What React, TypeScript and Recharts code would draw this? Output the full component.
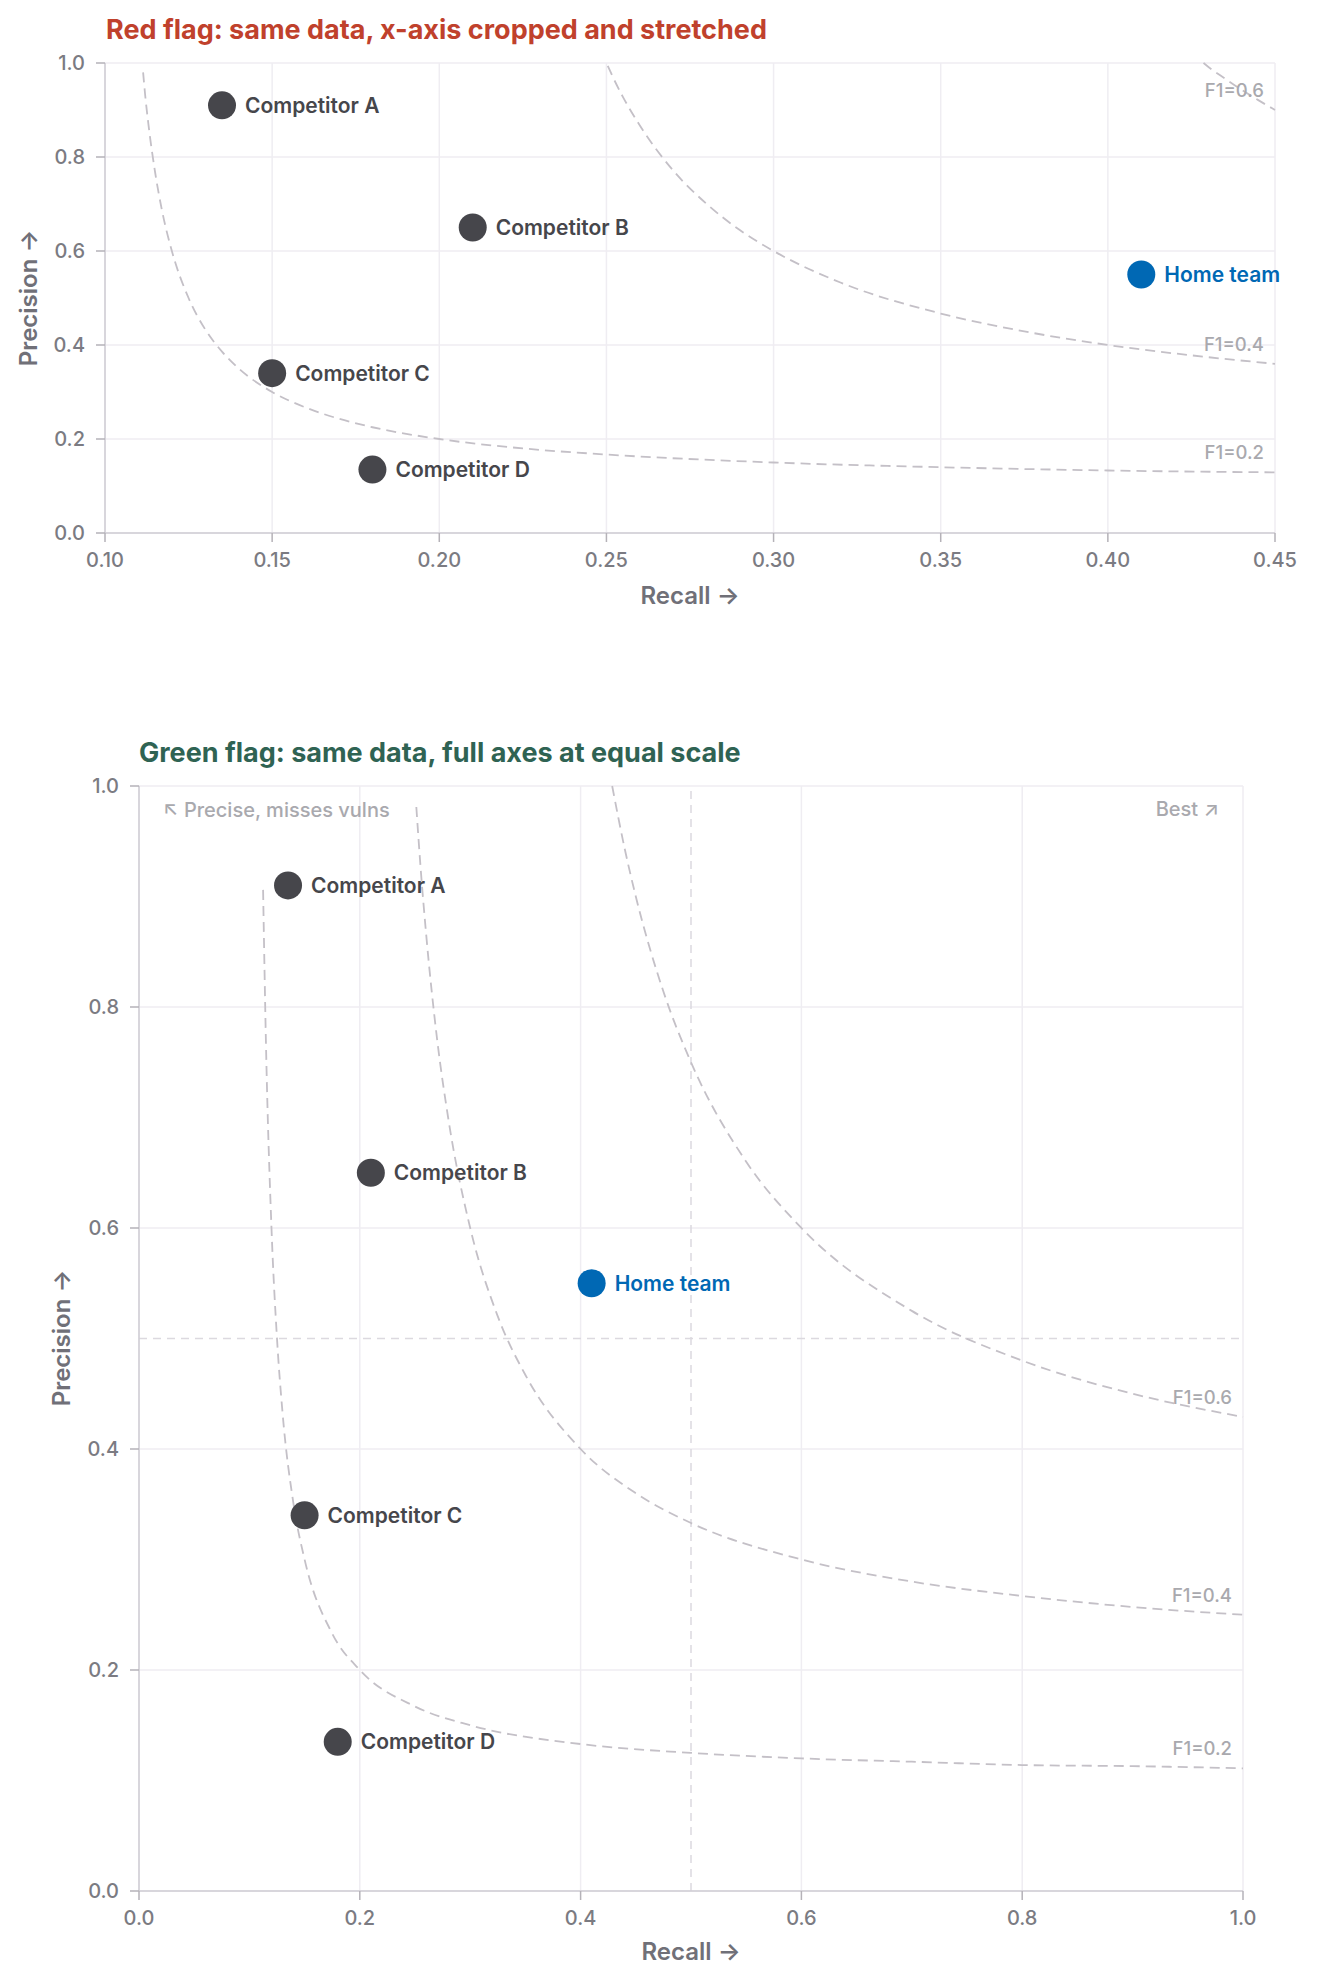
import React from 'react';
import {
  ComposedChart,
  Line,
  Scatter,
  XAxis,
  YAxis,
  CartesianGrid,
  ReferenceLine,
  LabelList,
} from 'recharts';

// same four competitors + home team on both panels
const TEAM_NAMES = ['Competitor A', 'Competitor B', 'Competitor C', 'Competitor D'];
const TEAM_RECALL = [0.135, 0.21, 0.15, 0.18];
const TEAM_PRECISION = [0.91, 0.65, 0.34, 0.135];

const HOME_NAME = 'Home team';
const HOME_RECALL = 0.41;
const HOME_PRECISION = 0.55;

const CROP_X_TICKS = [0.1, 0.15, 0.2, 0.25, 0.3, 0.35, 0.4, 0.45];
const FULL_X_TICKS = [0, 0.2, 0.4, 0.6, 0.8, 1.0];
const Y_TICKS = [0, 0.2, 0.4, 0.6, 0.8, 1.0];

// iso-F1 guide curves, [recall, precision]
const CROP_F1_20: [number, number][] = [
  [0.1114, 0.98], [0.112, 0.933], [0.113, 0.869], [0.115, 0.767], [0.117, 0.688],
  [0.12, 0.6], [0.125, 0.5], [0.13, 0.433], [0.135, 0.386], [0.14, 0.35],
  [0.15, 0.3], [0.16, 0.267], [0.17, 0.243], [0.18, 0.225], [0.2, 0.2],
  [0.225, 0.18], [0.25, 0.167], [0.3, 0.15], [0.35, 0.14], [0.4, 0.133], [0.45, 0.129],
];
const CROP_F1_40: [number, number][] = [
  [0.2504, 0.994], [0.252, 0.969], [0.255, 0.927], [0.26, 0.867], [0.27, 0.771],
  [0.28, 0.7], [0.29, 0.644], [0.3, 0.6], [0.32, 0.533], [0.35, 0.467],
  [0.375, 0.429], [0.4, 0.4], [0.425, 0.378], [0.45, 0.36],
];
const CROP_F1_60: [number, number][] = [
  [0.4286, 1.0], [0.43, 0.992], [0.435, 0.967], [0.44, 0.943], [0.445, 0.921], [0.45, 0.9],
];

// ...and off the full-scale panel
const FULL_F1_20: [number, number][] = [
  [0.1124, 0.906], [0.115, 0.767], [0.12, 0.6], [0.125, 0.5], [0.13, 0.433],
  [0.14, 0.35], [0.15, 0.3], [0.175, 0.233], [0.2, 0.2], [0.25, 0.167],
  [0.3, 0.15], [0.4, 0.133], [0.5, 0.125], [0.6, 0.12], [0.7, 0.117],
  [0.8, 0.114], [0.9, 0.113], [1.0, 0.111],
];
const FULL_F1_40: [number, number][] = [
  [0.2512, 0.981], [0.255, 0.927], [0.26, 0.867], [0.27, 0.771], [0.28, 0.7],
  [0.3, 0.6], [0.325, 0.52], [0.35, 0.467], [0.4, 0.4], [0.45, 0.36],
  [0.5, 0.333], [0.6, 0.3], [0.7, 0.28], [0.8, 0.267], [0.9, 0.257], [1.0, 0.25],
];
const FULL_F1_60: [number, number][] = [
  [0.4286, 1.0], [0.44, 0.943], [0.45, 0.9], [0.475, 0.814], [0.5, 0.75],
  [0.55, 0.66], [0.6, 0.6], [0.7, 0.525], [0.8, 0.48], [0.9, 0.45], [1.0, 0.429],
];

const FONT = 'Inter, "Noto Sans", sans-serif';
const TICK_STYLE = { fill: '#7b7b82', fontSize: 20, fontWeight: 500, fontFamily: FONT };
const AXIS_COLOR = '#cfccd3';
const CURVE_COLOR = '#c4c0c7';

const teamRows = TEAM_NAMES.map((name, i) => ({ name, r: TEAM_RECALL[i], p: TEAM_PRECISION[i] }));
const homeRows = [{ name: HOME_NAME, r: HOME_RECALL, p: HOME_PRECISION }];
const toRows = (pairs: [number, number][]) => pairs.map(([r, p]) => ({ r, p }));

const dotShape = (color: string) => (props: any) => {
  const { cx, cy, payload } = props;
  return (
    <g>
      <circle cx={cx} cy={cy} r={14} fill={color} />
      <text
        x={cx + 23}
        y={cy}
        dominantBaseline="central"
        fill={color}
        fontSize={21}
        fontWeight={600}
        fontFamily={FONT}
      >
        {payload.name}
      </text>
    </g>
  );
};

const endLabel = (text: string, count: number) => (props: any) => {
  if (props.index !== count - 1) return null;
  return (
    <text
      x={props.x - 11}
      y={props.y - 20}
      textAnchor="end"
      dominantBaseline="central"
      fill="#a9a9ae"
      fontSize={18.5}
      fontWeight={500}
      fontFamily={FONT}
    >
      {text}
    </text>
  );
};

interface PanelProps {
  height: number;
  margin: { top: number; right: number; bottom: number; left: number };
  xAxisHeight: number;
  xDomain: [number, number];
  xTicks: number[];
  xDigits: number;
  curves: { label: string; pts: [number, number][] }[];
  guides?: boolean;
}

function Panel({ height, margin, xAxisHeight, xDomain, xTicks, xDigits, curves, guides }: PanelProps) {
  return (
    <ComposedChart width={1317} height={height} margin={margin} style={{ overflow: 'visible' }}>
      <CartesianGrid stroke="#efedf2" strokeWidth={1.5} />
      <XAxis
        type="number"
        dataKey="r"
        domain={xDomain}
        ticks={xTicks}
        tickFormatter={(v: number) => v.toFixed(xDigits)}
        height={xAxisHeight}
        tick={TICK_STYLE}
        tickSize={9}
        tickMargin={11}
        axisLine={{ stroke: AXIS_COLOR, strokeWidth: 1.5 }}
        tickLine={{ stroke: '#b5b2b8', strokeWidth: 1.5 }}
      />
      <YAxis
        type="number"
        dataKey="p"
        domain={[0, 1]}
        ticks={Y_TICKS}
        tickFormatter={(v: number) => v.toFixed(1)}
        width={60}
        tick={TICK_STYLE}
        tickSize={9}
        tickMargin={11}
        axisLine={{ stroke: AXIS_COLOR, strokeWidth: 1.5 }}
        tickLine={{ stroke: '#b5b2b8', strokeWidth: 1.5 }}
      />
      {guides && <ReferenceLine x={0.5} stroke="#dcd9df" strokeWidth={1.5} strokeDasharray="8 6" />}
      {guides && <ReferenceLine y={0.5} stroke="#dcd9df" strokeWidth={1.5} strokeDasharray="8 6" />}
      {curves.map((c) => (
        <Line
          key={c.label}
          data={toRows(c.pts)}
          dataKey="p"
          type="monotone"
          stroke={CURVE_COLOR}
          strokeWidth={1.8}
          strokeDasharray="10 6"
          dot={false}
          activeDot={false}
          isAnimationActive={false}
        >
          <LabelList dataKey="p" content={endLabel(c.label, c.pts.length)} />
        </Line>
      ))}
      <Scatter data={teamRows} shape={dotShape('#46464b')} isAnimationActive={false} />
      <Scatter data={homeRows} shape={dotShape('#0068b4')} isAnimationActive={false} />
    </ComposedChart>
  );
}

const abs = (style: React.CSSProperties): React.CSSProperties => ({
  position: 'absolute',
  fontFamily: FONT,
  whiteSpace: 'nowrap',
  ...style,
});

const AXIS_TITLE = { fontSize: 24, fontWeight: 600, color: '#707078' };
const CORNER_NOTE = { fontSize: 20, fontWeight: 500, color: '#a9a9ae' };

export default function App() {
  return (
    <div
      style={{
        position: 'absolute',
        left: 0,
        top: 0,
        width: 1317,
        height: 1984,
        overflow: 'hidden',
        background: '#ffffff',
      }}
    >
      <div style={abs({ left: 106, top: 14, lineHeight: '32px', fontSize: 27, fontWeight: 700, color: '#c0412c' })}>
        Red flag: same data, x-axis cropped and stretched
      </div>
      <div style={abs({ left: 0, top: 0 })}>
        <Panel
          height={640}
          margin={{ top: 63, right: 42, bottom: 0, left: 45 }}
          xAxisHeight={107}
          xDomain={[0.1, 0.45]}
          xTicks={CROP_X_TICKS}
          xDigits={2}
          curves={[
            { label: 'F1=0.2', pts: CROP_F1_20 },
            { label: 'F1=0.4', pts: CROP_F1_40 },
            { label: 'F1=0.6', pts: CROP_F1_60 },
          ]}
        />
      </div>
      <div style={abs({ left: 690, top: 595, transform: 'translate(-50%, -50%)', ...AXIS_TITLE })}>
        Recall →
      </div>
      <div style={abs({ left: 28, top: 298, transform: 'translate(-50%, -50%) rotate(-90deg)', ...AXIS_TITLE })}>
        Precision →
      </div>

      <div style={abs({ left: 139, top: 737, lineHeight: '32px', fontSize: 27, fontWeight: 700, color: '#2f6353' })}>
        Green flag: same data, full axes at equal scale
      </div>
      <div style={abs({ left: 0, top: 700 })}>
        <Panel
          height={1271}
          margin={{ top: 86, right: 74, bottom: 0, left: 79 }}
          xAxisHeight={80}
          xDomain={[0, 1]}
          xTicks={FULL_X_TICKS}
          xDigits={1}
          guides
          curves={[
            { label: 'F1=0.2', pts: FULL_F1_20 },
            { label: 'F1=0.4', pts: FULL_F1_40 },
            { label: 'F1=0.6', pts: FULL_F1_60 },
          ]}
        />
      </div>
      <div style={abs({ left: 163, top: 810, transform: 'translateY(-50%)', ...CORNER_NOTE })}>
        ↖ Precise, misses vulns
      </div>
      <div style={abs({ right: 1317 - 1219, top: 809, transform: 'translateY(-50%)', ...CORNER_NOTE })}>
        Best ↗
      </div>
      <div style={abs({ left: 691, top: 1951, transform: 'translate(-50%, -50%)', ...AXIS_TITLE })}>
        Recall →
      </div>
      <div style={abs({ left: 61, top: 1338, transform: 'translate(-50%, -50%) rotate(-90deg)', ...AXIS_TITLE })}>
        Precision →
      </div>
    </div>
  );
}
